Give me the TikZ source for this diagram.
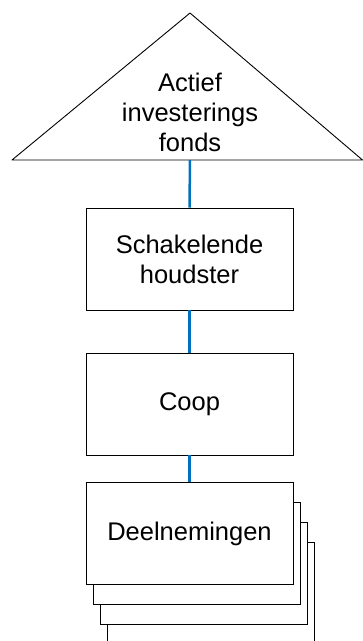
\documentclass[tikz,border=0pt]{standalone}
\usepackage{fontspec}
\setmainfont{Liberation Sans}
\definecolor{linkblue}{RGB}{0,112,192}
\begin{document}
\begin{tikzpicture}[x = 1pt, y = -1pt,
	font = \fontsize{25.5}{30}\selectfont,
	holding/.style = {draw = black,
					  fill = white,
					  shape = rectangle,
					  line width = 0.9pt,
					  minimum width = 207pt,
					  minimum height = 102pt,
					  inner sep = 0pt,
					  align = center},
	link/.style = {draw = linkblue, line width = 2.5pt}]
	\useasboundingbox (0, 0) rectangle (363, 641);

	% fund triangle
	\coordinate (apex) at (190, 13);
	\coordinate (baseL) at (12, 160);
	\coordinate (baseR) at (362.5, 160);
	\coordinate (fundbase) at (190, 160);
	\draw[line width = 0.9pt, line join = round] (baseL) -- (apex) -- (baseR) -- cycle;
	\draw (190, 112) node[align = center](fund){Actief\\investerings\\fonds};

	\draw (189.5, 259) node[holding](hold){Schakelende\\houdster};
	\draw (189.5, 404) node[holding](coop){Coop};

	% stacked participations
	\foreach \i in {3, 2, 1}
		\draw (189.5 + \i*7.3, 533.5 + \i*20) node[holding](copy\i){};
	\draw (189.5, 533.5) node[holding](deel){Deelnemingen};

	\draw[link] (fundbase) -- (hold.north);
	\draw[link] (hold.south) -- (coop.north);
	\draw[link] (coop.south) -- (deel.north);
\end{tikzpicture}
\end{document}
